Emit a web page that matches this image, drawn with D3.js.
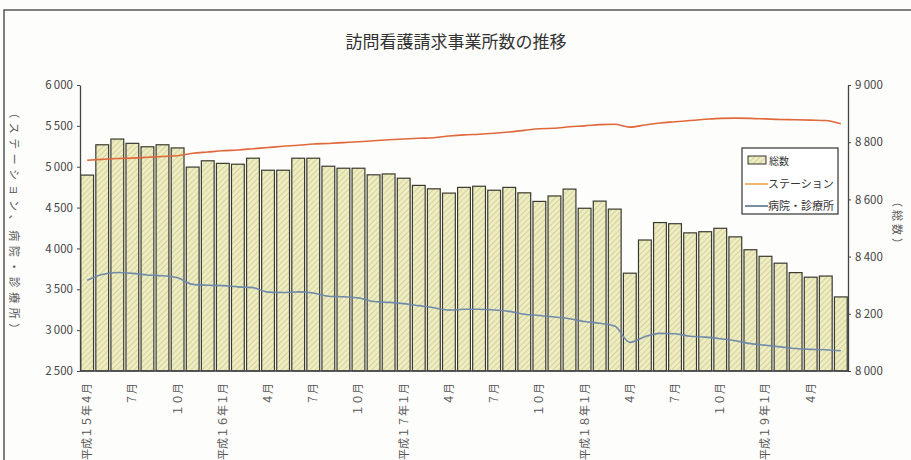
<!DOCTYPE html>
<html>
<head>
<meta charset="utf-8">
<script src="https://cdn.jsdelivr.net/npm/d3@7"></script>
<style>
  html, body { margin: 0; padding: 0; background: #fdfdfb; }
  svg { display: block; }
  text { font-family: "Noto Sans CJK JP", "Noto Sans", sans-serif; }
</style>
</head>
<body>
<svg id="chart" width="911" height="460"></svg>
<script>
// ---- data ----
const months = ["H15.4","H15.5","H15.6","H15.7","H15.8","H15.9","H15.10","H15.11","H15.12",
  "H16.1","H16.2","H16.3","H16.4","H16.5","H16.6","H16.7","H16.8","H16.9","H16.10","H16.11","H16.12",
  "H17.1","H17.2","H17.3","H17.4","H17.5","H17.6","H17.7","H17.8","H17.9","H17.10","H17.11","H17.12",
  "H18.1","H18.2","H18.3","H18.4","H18.5","H18.6","H18.7","H18.8","H18.9","H18.10","H18.11","H18.12",
  "H19.1","H19.2","H19.3","H19.4","H19.5","H19.6"];
const totalCount = [8685,8791,8811,8796,8784,8791,8780,8713,8735,8726,8723,8744,8702,8702,8744,8744,8716,
  8709,8709,8686,8689,8674,8649,8637,8622,8642,8646,8632,8642,8623,8593,8612,8636,8569,8594,8566,
  8342,8458,8519,8515,8483,8487,8499,8469,8424,8401,8377,8344,8328,8332,8259];
const stationCount = [5080,5090,5100,5105,5115,5125,5135,5165,5180,5195,5205,5220,5235,5250,5262,5278,5285,
  5295,5305,5318,5330,5340,5348,5355,5375,5390,5398,5410,5425,5445,5465,5470,5490,5500,5515,5520,
  5485,5510,5535,5550,5565,5580,5592,5595,5592,5585,5578,5575,5570,5565,5525];
const hospitalCount = [3610,3680,3705,3695,3675,3665,3640,3560,3550,3545,3530,3520,3465,3460,3468,3455,3415,
  3408,3395,3350,3340,3325,3300,3275,3245,3255,3255,3247,3230,3195,3180,3160,3140,3105,3085,3050,
  2850,2920,2960,2955,2925,2915,2895,2870,2835,2815,2795,2775,2765,2760,2748];
const xLabelIndex = [0,3,6,9,12,15,18,21,24,27,30,33,36,39,42,45,48];
const xLabels = ["平成１５年４月","７月","１０月","平成１６年１月","４月","７月","１０月","平成１７年１月",
  "４月","７月","１０月","平成１８年１月","４月","７月","１０月","平成１９年１月","４月"];
const leftTicks = [2500,3000,3500,4000,4500,5000,5500,6000];
const rightTicks = [8000,8200,8400,8600,8800,9000];
const seriesNames = ["総数","ステーション","病院・診療所"];
const titleText = "訪問看護請求事業所数の推移";
const leftTitle = "（ステーション、病院・診療所）";
const rightTitle = "（総数）";

// ---- drawing ----
const svg = d3.select("#chart");
const plot = {left: 80, right: 848, top: 85, bottom: 371};

const defs = svg.append("defs");
const pat = defs.append("pattern").attr("id","hatch").attr("patternUnits","userSpaceOnUse")
  .attr("width",4).attr("height",4).attr("patternTransform","rotate(45)");
pat.append("rect").attr("width",4).attr("height",4).attr("fill","#eeedc2");
pat.append("line").attr("x1",0).attr("y1",0).attr("x2",0).attr("y2",4)
  .attr("stroke","#c6c488").attr("stroke-width",1.3);

// frame
svg.append("path").attr("d","M4,470 V10 H915").attr("fill","none").attr("stroke","#555").attr("stroke-width",1.5);

const x = d3.scaleBand().domain(months.map((d,i)=>i)).range([plot.left, plot.right])
  .paddingInner(0.15).paddingOuter(0.05);
const yL = d3.scaleLinear().domain([2500,6000]).range([plot.bottom, plot.top]);
const yR = d3.scaleLinear().domain([8000,9000]).range([plot.bottom, plot.top]);

// title
svg.append("text").attr("x",456).attr("y",48).attr("text-anchor","middle")
  .attr("font-size",17).attr("font-weight",400).attr("fill","#333").text(titleText);

// bars
svg.append("g").selectAll("rect").data(totalCount).join("rect")
  .attr("x",(d,i)=>x(i)).attr("width",x.bandwidth())
  .attr("y",d=>yR(d)).attr("height",d=>plot.bottom - yR(d))
  .attr("fill","url(#hatch)").attr("stroke","#3a3a30").attr("stroke-width",1.2);

// lines
const cx = i => x(i) + x.bandwidth()/2;
const lineL = d3.line().x((d,i)=>cx(i)).y(d=>yL(d)).curve(d3.curveMonotoneX);
svg.append("path").datum(stationCount).attr("d",lineL).attr("fill","none")
  .attr("stroke","#e0683a").attr("stroke-width",1.6);
svg.append("path").datum(hospitalCount).attr("d",lineL).attr("fill","none")
  .attr("stroke","#6f8aab").attr("stroke-width",1.6);

// axes
const fmt = d => { const s = String(d); return s.slice(0, s.length-3) + "\u2009" + s.slice(-3); };
const gL = svg.append("g").attr("transform",`translate(${plot.left},0)`)
  .call(d3.axisLeft(yL).tickValues(leftTicks).tickSize(3).tickSizeOuter(0).tickFormat(fmt));
const gR = svg.append("g").attr("transform",`translate(${plot.right},0)`)
  .call(d3.axisRight(yR).tickValues(rightTicks).tickSize(3).tickSizeOuter(0).tickFormat(fmt));
[gL,gR].forEach(g=>{
  g.select(".domain").attr("stroke","#444").attr("stroke-width",1.3);
  g.selectAll(".tick line").attr("stroke","#444");
  g.selectAll(".tick text").attr("font-family","Liberation Sans, Arial, sans-serif")
    .attr("font-size",11.5).attr("fill","#444");
});
gL.selectAll(".tick text").attr("x",-7);
gR.selectAll(".tick text").attr("x",7);

// x axis
svg.append("line").attr("x1",plot.left).attr("x2",plot.right).attr("y1",plot.bottom).attr("y2",plot.bottom)
  .attr("stroke","#444").attr("stroke-width",1.3);
svg.append("g").selectAll("text").data(xLabelIndex).join("text")
  .attr("transform",i=>`translate(${cx(i)+4},383) rotate(-90)`)
  .attr("text-anchor","end").attr("font-size",11).attr("fill","#555")
  .text((d,k)=>xLabels[k]);

// axis titles
svg.append("text").attr("transform","translate(10,223) rotate(90)").attr("text-anchor","middle")
  .attr("font-size",11).attr("letter-spacing",4.5).attr("fill","#555").text(leftTitle);
svg.append("text").attr("transform","translate(893,224) rotate(90)").attr("text-anchor","middle")
  .attr("font-size",11).attr("letter-spacing",3).attr("fill","#555").text(rightTitle);

// legend
const lg = svg.append("g");
lg.append("rect").attr("x",742).attr("y",148).attr("width",96).attr("height",66)
  .attr("fill","#fff").attr("stroke","#333").attr("stroke-width",1.2);
lg.append("rect").attr("x",748).attr("y",156).attr("width",18).attr("height",8)
  .attr("fill","url(#hatch)").attr("stroke","#333");
lg.append("text").attr("x",769).attr("y",165).attr("font-size",10).attr("fill","#333").text(seriesNames[0]);
lg.append("line").attr("x1",745).attr("x2",768).attr("y1",184).attr("y2",184)
  .attr("stroke","#e8a040").attr("stroke-width",1.5);
lg.append("text").attr("x",768).attr("y",188).attr("font-size",11).attr("fill","#333").text(seriesNames[1]);
lg.append("line").attr("x1",745).attr("x2",768).attr("y1",206).attr("y2",206)
  .attr("stroke","#4d6a82").attr("stroke-width",1.5);
lg.append("text").attr("x",768).attr("y",210).attr("font-size",11).attr("fill","#333").text(seriesNames[2]);
</script>
</body>
</html>
